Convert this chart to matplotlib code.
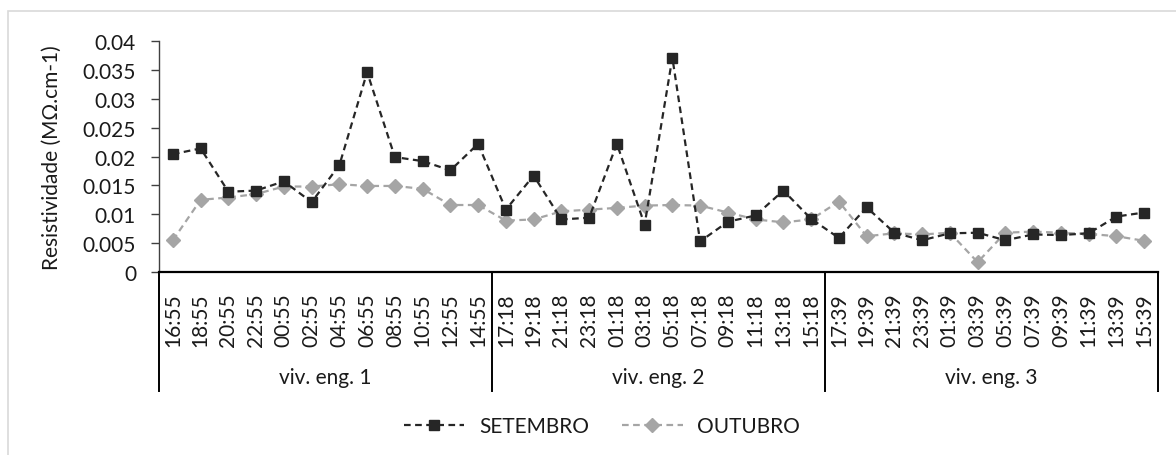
import matplotlib
matplotlib.use("Agg")
import matplotlib.pyplot as plt
from matplotlib.patches import Rectangle
from matplotlib.transforms import blended_transform_factory

plt.rcParams['font.family'] = ['Lato', 'DejaVu Sans']

groups = ["viv. eng. 1", "viv. eng. 2", "viv. eng. 3"]
times_1 = ["16:55", "18:55", "20:55", "22:55", "00:55", "02:55",
           "04:55", "06:55", "08:55", "10:55", "12:55", "14:55"]
times_2 = ["17:18", "19:18", "21:18", "23:18", "01:18", "03:18",
           "05:18", "07:18", "09:18", "11:18", "13:18", "15:18"]
times_3 = ["17:39", "19:39", "21:39", "23:39", "01:39", "03:39",
           "05:39", "07:39", "09:39", "11:39", "13:39", "15:39"]

setembro = [0.0204, 0.0214, 0.0139, 0.0141, 0.0157, 0.0121,
            0.0185, 0.0346, 0.0199, 0.0192, 0.0176, 0.0222,
            0.0108, 0.0167, 0.0091, 0.0094, 0.0222, 0.0082,
            0.0371, 0.0053, 0.0087, 0.0098, 0.0141, 0.0092,
            0.0059, 0.0112, 0.0068, 0.0055, 0.0067, 0.0068,
            0.0055, 0.0065, 0.0064, 0.0067, 0.0096, 0.0103]
outubro = [0.0055, 0.0125, 0.0129, 0.0135, 0.0148, 0.0148,
           0.0152, 0.0149, 0.0149, 0.0144, 0.0116, 0.0116,
           0.0089, 0.0091, 0.0105, 0.0108, 0.0111, 0.0115,
           0.0116, 0.0115, 0.0103, 0.0091, 0.0086, 0.0091,
           0.0122, 0.0062, 0.0067, 0.0065, 0.0068, 0.0017,
           0.0068, 0.0070, 0.0068, 0.0066, 0.0062, 0.0054]
y_ticks = [0, 0.005, 0.01, 0.015, 0.02, 0.025, 0.03, 0.035, 0.04]

labels = times_1 + times_2 + times_3
x = list(range(len(labels)))

W, H = 1176, 456
fig = plt.figure(figsize=(W / 100, H / 100), dpi=100)

# light chart-area frame
fig.add_artist(Rectangle((8 / W, -0.1), 1.2, (H - 12) / H + 0.1,
                         transform=fig.transFigure, fill=False,
                         edgecolor='#d9d9d9', linewidth=1.2))

ax = fig.add_axes([159 / W, 1 - 273 / H, (1158 - 159) / W, (273 - 42) / H])

ax.plot(x, setembro, color='#262626', linestyle=(0, (3, 2)), linewidth=1.6,
        marker='s', markersize=7.8, markerfacecolor='#262626',
        markeredgecolor='#262626', label='SETEMBRO', zorder=3)
ax.plot(x, outubro, color='#a5a5a5', linestyle=(0, (3, 2)), linewidth=1.6,
        marker='D', markersize=7.2, markerfacecolor='#a5a5a5',
        markeredgecolor='#a5a5a5', label='OUTUBRO', zorder=2)

ax.set_xlim(-0.5, len(labels) - 0.5)
ax.set_ylim(0, 0.04)
ax.set_yticks(y_ticks)
ax.set_yticklabels(['0' if v == 0 else f'{v:g}' for v in y_ticks])
ax.set_xticks(x)
ax.set_xticklabels(labels, rotation=90, va='top', ha='center')

ax.tick_params(axis='y', direction='out', length=5.5, width=1.0,
               color='#404040', pad=11, labelsize=15, labelcolor='#1a1a1a')
ax.tick_params(axis='x', length=0, pad=15, labelsize=15, labelcolor='#1a1a1a')

for s in ('top', 'right'):
    ax.spines[s].set_visible(False)
ax.spines['left'].set_color('#404040')
ax.spines['left'].set_linewidth(1.0)
ax.spines['bottom'].set_color('#000000')
ax.spines['bottom'].set_linewidth(1.6)

ax.set_ylabel('Resistividade (MΩ.cm-1)', fontsize=15, color='#1a1a1a')
ax.yaxis.set_label_coords((62 - 159) / (1158 - 159), 0.5)

# group separators and group labels below the axis
trans = blended_transform_factory(ax.transData, ax.transAxes)
bottom_frac = -(392 - 273) / (273 - 42)
for b in [-0.5, 11.5, 23.5, 35.5]:
    ax.plot([b, b], [0, bottom_frac], transform=trans, color='black',
            linewidth=1.4, clip_on=False)
label_frac = -(378 - 273) / (273 - 42)
for i, g in enumerate(groups):
    ax.text(i * 12 + 5.5, label_frac, g, transform=trans, ha='center',
            va='center', fontsize=15, color='#1a1a1a')

fig.legend(loc='center', bbox_to_anchor=(602 / W, 1 - 427 / H), ncol=2,
           frameon=False, fontsize=15, handlelength=2.9, handletextpad=0.7,
           columnspacing=1.6, labelcolor='#1a1a1a')

fig.savefig('out.png', dpi=100)
